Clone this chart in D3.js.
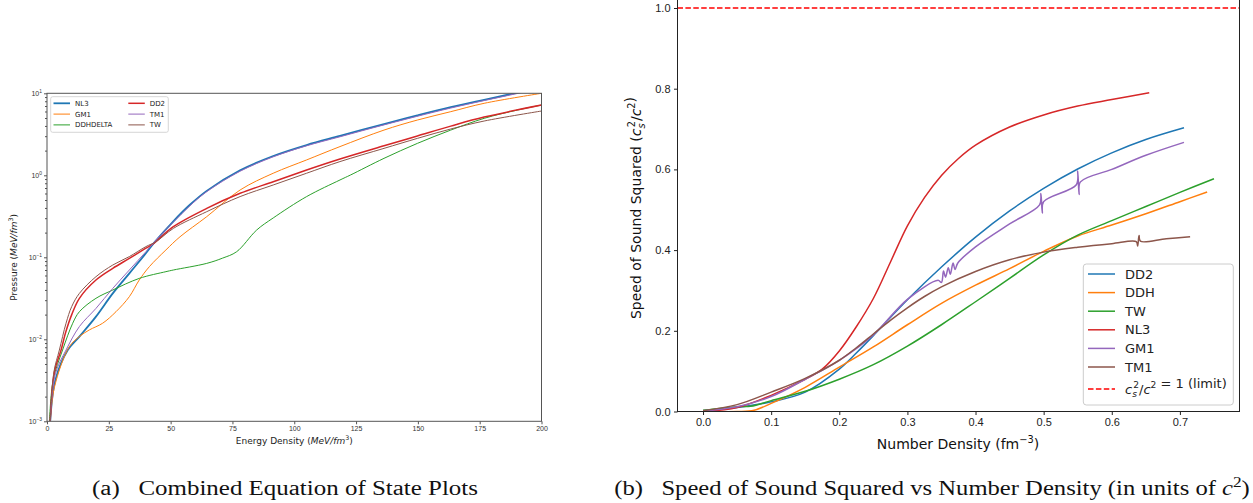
<!DOCTYPE html>
<html>
<head>
<meta charset="utf-8">
<script src="https://cdn.jsdelivr.net/npm/d3@7"></script>
<style>
body { margin: 0; background: #fff; }
svg { display: block; font-family: "DejaVu Sans", sans-serif; }
</style>
</head>
<body>
<div id="app"></div>
<script>

// (a) equation of state: [energy density MeV/fm^3, pressure MeV/fm^3]
var eosNames = ["NL3", "GM1", "DDHDELTA", "DD2", "TM1", "TW"];
var eosNL3 = [[1.3,0.001],[3.4,0.0032],[8.4,0.0074],[13.1,0.0108],[19.8,0.0189],[26.6,0.0363],[33.3,0.0637],[40,0.112],[43.7,0.155],[51.1,0.275],[57.8,0.437],[64.6,0.646],[78.1,1.15],[91.5,1.72],[105,2.34],[118.5,3.02],[136.3,4.22],[149.8,5.37],[163.3,6.76],[176.8,8.32],[189,10.0],[200,11.7]];
var eosGM1 = [[1.3,0.001],[3.0,0.0026],[9.0,0.0081],[13.1,0.0108],[17.1,0.0130],[22.5,0.0157],[27.9,0.0217],[33.3,0.0331],[37.3,0.0528],[41.4,0.0769],[48.1,0.123],[53.8,0.178],[64.6,0.313],[78.1,0.662],[91.5,1.06],[105,1.54],[118.5,2.24],[136.3,3.56],[149.8,4.72],[163.3,5.97],[176.8,7.55],[200,10.0]];
var eosDDHDELTA = [[1.0,0.001],[2.5,0.0032],[6.3,0.0074],[10.4,0.0157],[13.1,0.0217],[19.8,0.0316],[26.6,0.0399],[37.3,0.0553],[48.1,0.0668],[51.1,0.070],[64.6,0.0843],[71,0.0977],[76.7,0.117],[84.8,0.215],[91.5,0.302],[105,0.55],[118.5,0.877],[122.8,1.01],[136.3,1.61],[149.8,2.45],[163.3,3.56],[176.8,4.95],[190.3,6.25],[200,7.19]];
var eosDD2 = [[1.3,0.001],[3.0,0.004],[5.7,0.0074],[7.5,0.012],[10,0.020],[13.1,0.0316],[19.8,0.0528],[26.6,0.0733],[33.3,0.097],[40,0.129],[43.2,0.148],[51.1,0.236],[64.6,0.395],[78.1,0.603],[91.5,0.836],[105,1.16],[118.5,1.58],[136.3,2.29],[149.8,3.02],[163.3,3.98],[176.8,5.13],[200,7.19]];
var eosTM1 = [[1.3,0.001],[3.4,0.0038],[7.7,0.0074],[13.1,0.0143],[19.8,0.0238],[26.6,0.0418],[33.3,0.070],[40,0.117],[45.4,0.179],[51.1,0.268],[57.8,0.425],[64.6,0.631],[78.1,1.12],[91.5,1.68],[105,2.29],[118.5,2.95],[136.3,4.12],[163.3,6.61],[189,9.77],[200,11.5]];
var eosTW = [[1.3,0.001],[2.8,0.004],[5.0,0.0074],[7.7,0.0157],[10,0.0251],[13.1,0.0363],[19.8,0.058],[26.6,0.0805],[33.3,0.102],[40,0.135],[44.1,0.155],[51.1,0.225],[64.6,0.36],[78.1,0.55],[91.5,0.762],[105,1.06],[118.5,1.47],[136.3,2.13],[149.8,2.82],[163.3,3.67],[176.8,4.59],[200,6.08]];
var energyTicks = [0, 25, 50, 75, 100, 125, 150, 175, 200];
var pressureExponents = [-3, -2, -1, 0, 1];

// (b) speed of sound squared: [number density fm^-3, cs^2/c^2]
var soundNames = ["DD2", "DDH", "TW", "NL3", "GM1", "TM1"];
var cs2DD2 = [[0,0.002],[0.05,0.01],[0.1,0.024],[0.15,0.048],[0.2,0.105],[0.225,0.145],[0.25,0.188],[0.275,0.233],[0.3,0.277],[0.35,0.358],[0.4,0.432],[0.45,0.497],[0.5,0.553],[0.55,0.601],[0.6,0.641],[0.65,0.674],[0.706,0.703]];
var cs2DDH = [[0,0],[0.05,0],[0.075,0.003],[0.1,0.02],[0.15,0.06],[0.2,0.11],[0.25,0.16],[0.3,0.215],[0.35,0.268],[0.4,0.313],[0.45,0.354],[0.5,0.397],[0.55,0.435],[0.6,0.462],[0.65,0.49],[0.7,0.52],[0.74,0.544]];
var cs2TW = [[0,0.003],[0.05,0.012],[0.07,0.013],[0.1,0.027],[0.15,0.05],[0.2,0.08],[0.25,0.116],[0.3,0.162],[0.35,0.215],[0.4,0.272],[0.45,0.33],[0.5,0.388],[0.55,0.437],[0.6,0.473],[0.65,0.508],[0.7,0.543],[0.75,0.577]];
var cs2NL3 = [[0,0],[0.05,0.01],[0.1,0.04],[0.15,0.08],[0.175,0.105],[0.2,0.15],[0.225,0.21],[0.25,0.28],[0.275,0.37],[0.3,0.46],[0.325,0.53],[0.35,0.585],[0.375,0.627],[0.4,0.66],[0.45,0.705],[0.5,0.735],[0.55,0.757],[0.6,0.773],[0.655,0.79]];
var cs2GM1 = [[0,0.002],[0.05,0.012],[0.1,0.037],[0.15,0.08],[0.2,0.127],[0.25,0.19],[0.3,0.278],[0.345,0.325],[0.35,0.32],[0.353,0.348],[0.356,0.333],[0.36,0.356],[0.363,0.34],[0.367,0.368],[0.37,0.352],[0.374,0.368],[0.4,0.408],[0.45,0.465],[0.494,0.512],[0.496,0.54],[0.498,0.492],[0.5,0.52],[0.548,0.562],[0.55,0.596],[0.552,0.538],[0.554,0.569],[0.6,0.6],[0.65,0.635],[0.706,0.667]];
var cs2TM1 = [[0,0.002],[0.05,0.017],[0.1,0.048],[0.15,0.082],[0.2,0.127],[0.225,0.158],[0.25,0.192],[0.275,0.226],[0.3,0.257],[0.325,0.285],[0.35,0.309],[0.4,0.347],[0.45,0.376],[0.5,0.395],[0.55,0.407],[0.6,0.416],[0.636,0.421],[0.638,0.41],[0.64,0.436],[0.642,0.422],[0.68,0.428],[0.715,0.433]];
var densityTicks = [0, 0.1, 0.2, 0.3, 0.4, 0.5, 0.6, 0.7];
var cs2Ticks = [0, 0.2, 0.4, 0.6, 0.8, 1.0];
var cs2Limit = 1.0;

var colors = ["#1f77b4", "#ff7f0e", "#2ca02c", "#d62728", "#9467bd", "#8c564b"];

var svg = d3.select("#app")
    .append("svg")
    .attr("width", 1253)
    .attr("height", 503);

// text with italic / super / sub pieces
function rich(text, parts, size) {
    parts.forEach(function (p) {
        var ts = text.append("tspan").text(p.t);
        if (p.it) ts.style("font-style", "italic");
        if (p.sup) ts.style("font-size", (size * 0.7) + "px").attr("dy", -size * 0.4);
        if (p.sub) ts.style("font-size", (size * 0.7) + "px").attr("dy", size * 0.25);
        if (p.dx) ts.attr("dx", p.dx);
        if (p.down) ts.attr("dy", p.down);
    });
    return text;
}

function csParts(size) {
    return [
        {t: "c", it: true},
        {t: "s", it: true, sub: true},
        {t: "2", sup: true, dx: -size * 0.28 + "px", down: -size * 0.65},
        {t: "/", down: size * 0.4},
        {t: "c", it: true},
        {t: "2", sup: true},
        {t: "", down: size * 0.4}
    ];
}

// stretch a caption to the width it has in the figure
function fitWidth(text, cx, y, width) {
    var w = text.node().getComputedTextLength();
    text.attr("x", 0).attr("y", 0).attr("text-anchor", "middle")
        .attr("transform", "translate(" + cx + "," + y + ") scale(" + (width / w) + ",1)");
}

// ---------- (a) ----------
var ax = {left: 47, right: 541.5, top: 93.3, bottom: 421.3};
var xE = d3.scaleLinear().domain([0, 200]).range([ax.left, ax.right]);
var yP = d3.scaleLog().domain([1e-3, 10]).range([ax.bottom, ax.top]);

svg.append("clipPath").attr("id", "clipA")
    .append("rect")
    .attr("x", ax.left).attr("y", ax.top)
    .attr("width", ax.right - ax.left).attr("height", ax.bottom - ax.top);

var lineA = d3.line()
    .x(function (d) { return xE(d[0]); })
    .y(function (d) { return yP(d[1]); })
    .curve(d3.curveCatmullRom.alpha(0.5));

var eosData = [eosNL3, eosGM1, eosDDHDELTA, eosDD2, eosTM1, eosTW];
var eosWidth = [1.8, 1, 1, 1.5, 1, 1];

svg.append("g")
    .attr("clip-path", "url(#clipA)")
    .selectAll("path")
    .data(eosData)
    .enter()
    .append("path")
    .attr("d", lineA)
    .attr("fill", "none")
    .attr("stroke", function (d, i) { return colors[i]; })
    .attr("stroke-width", function (d, i) { return eosWidth[i]; });

var xAxisA = svg.append("g")
    .attr("transform", "translate(0," + ax.bottom + ")")
    .call(d3.axisBottom(xE).tickValues(energyTicks).tickSize(3).tickPadding(2));
xAxisA.select(".domain").remove();
xAxisA.selectAll("text").style("font-size", "7px").attr("fill", "#333");
xAxisA.selectAll("line").attr("stroke", "#555");

var minor = [];
pressureExponents.forEach(function (e) {
    if (e < 1) d3.range(2, 10).forEach(function (k) { minor.push(k * Math.pow(10, e)); });
});
var yMinorA = svg.append("g")
    .attr("transform", "translate(" + ax.left + ",0)")
    .call(d3.axisLeft(yP).tickValues(minor).tickSize(2).tickFormat(""));
yMinorA.select(".domain").remove();
yMinorA.selectAll("line").attr("stroke", "#555");

var yAxisA = svg.append("g")
    .attr("transform", "translate(" + ax.left + ",0)")
    .call(d3.axisLeft(yP)
          .tickValues(pressureExponents.map(function (e) { return Math.pow(10, e); }))
          .tickSize(3).tickFormat(""));
yAxisA.select(".domain").remove();
yAxisA.selectAll("line").attr("stroke", "#555");
yAxisA.selectAll(".tick")
    .append("text")
    .attr("x", -5).attr("dy", "0.32em")
    .attr("text-anchor", "end")
    .attr("fill", "#333")
    .style("font-size", "7px")
    .each(function (d) {
        var e = Math.round(Math.log10(d));
        rich(d3.select(this), [{t: "10"}, {t: String(e).replace("-", "\u2212"), sup: true}], 7);
    });

svg.append("rect")
    .attr("x", ax.left).attr("y", ax.top)
    .attr("width", ax.right - ax.left).attr("height", ax.bottom - ax.top)
    .attr("fill", "none").attr("stroke", "#555").attr("stroke-width", 1);

rich(svg.append("text")
     .attr("x", (ax.left + ax.right) / 2).attr("y", 444)
     .attr("text-anchor", "middle").style("font-size", "9px").attr("fill", "#222"),
     [{t: "Energy Density ("}, {t: "MeV/fm", it: true}, {t: "3", sup: true}, {t: ")", down: 3.6}], 9);

rich(svg.append("text")
     .attr("transform", "translate(17," + ((ax.top + ax.bottom) / 2) + ") rotate(-90)")
     .attr("text-anchor", "middle").style("font-size", "9px").attr("fill", "#222"),
     [{t: "Pressure ("}, {t: "MeV/fm", it: true}, {t: "3", sup: true}, {t: ")", down: 3.6}], 9);

// legend (a): two columns
var legA = svg.append("g");
legA.append("rect")
    .attr("x", 50.7).attr("y", 96.7).attr("width", 117.6).attr("height", 35.6)
    .attr("rx", 2).attr("fill", "#fff").attr("fill-opacity", 0.8)
    .attr("stroke", "#ccc").attr("stroke-width", 0.8);
var legAItems = legA.selectAll(".item")
    .data(eosNames)
    .enter()
    .append("g")
    .attr("class", "item")
    .attr("transform", function (d, i) {
        return "translate(" + (i < 3 ? 53.5 : 128.3) + "," + (103.3 + (i % 3) * 10.8) + ")";
    });
legAItems.append("line")
    .attr("x1", 0).attr("x2", 16.5)
    .attr("stroke", function (d, i) { return colors[i]; })
    .attr("stroke-width", function (d, i) { return eosWidth[i]; });
legAItems.append("text")
    .attr("x", 21.5).attr("dy", "0.35em")
    .style("font-size", "7px").attr("fill", "#222")
    .text(function (d) { return d; });

// ---------- (b) ----------
var bx = {left: 677.5, right: 1239.5, top: -1, bottom: 411.5};
var xN = d3.scaleLinear().domain([-0.0375, 0.7875]).range([bx.left, bx.right]);
var yC = d3.scaleLinear().domain([0, 1]).range([bx.bottom, 8]);

svg.append("clipPath").attr("id", "clipB")
    .append("rect")
    .attr("x", bx.left).attr("y", bx.top)
    .attr("width", bx.right - bx.left).attr("height", bx.bottom - bx.top);

var lineB = d3.line()
    .x(function (d) { return xN(d[0]); })
    .y(function (d) { return yC(d[1]); })
    .curve(d3.curveCatmullRom.alpha(0.5));

var soundData = [cs2DD2, cs2DDH, cs2TW, cs2NL3, cs2GM1, cs2TM1];

svg.append("g")
    .attr("clip-path", "url(#clipB)")
    .selectAll("path")
    .data(soundData)
    .enter()
    .append("path")
    .attr("d", lineB)
    .attr("fill", "none")
    .attr("stroke", function (d, i) { return colors[i]; })
    .attr("stroke-width", 1.5);

svg.append("line")
    .attr("x1", bx.left).attr("x2", bx.right)
    .attr("y1", yC(cs2Limit)).attr("y2", yC(cs2Limit))
    .attr("stroke", "#ff0000").attr("stroke-width", 1.5)
    .attr("stroke-dasharray", "5.5,2.4");

var xAxisB = svg.append("g")
    .attr("transform", "translate(0," + bx.bottom + ")")
    .call(d3.axisBottom(xN).tickValues(densityTicks).tickSize(3.5).tickPadding(3.5)
          .tickFormat(d3.format(".1f")));
xAxisB.select(".domain").remove();
xAxisB.selectAll("text").style("font-size", "11px").attr("fill", "#222");
xAxisB.selectAll("line").attr("stroke", "#222");

var yAxisB = svg.append("g")
    .attr("transform", "translate(" + bx.left + ",0)")
    .call(d3.axisLeft(yC).tickValues(cs2Ticks).tickSize(3.5).tickPadding(3.5)
          .tickFormat(d3.format(".1f")));
yAxisB.select(".domain").remove();
yAxisB.selectAll("text").style("font-size", "11px").attr("fill", "#222");
yAxisB.selectAll("line").attr("stroke", "#222");

svg.append("rect")
    .attr("x", bx.left).attr("y", bx.top)
    .attr("width", bx.right - bx.left).attr("height", bx.bottom - bx.top)
    .attr("fill", "none").attr("stroke", "#222").attr("stroke-width", 1);

rich(svg.append("text")
     .attr("x", 958).attr("y", 449)
     .attr("text-anchor", "middle").style("font-size", "14px").attr("fill", "#111"),
     [{t: "Number Density (fm"}, {t: "\u22123", sup: true}, {t: ")", down: 5.6}], 14);

rich(svg.append("text")
     .attr("transform", "translate(641,208) rotate(-90)")
     .attr("text-anchor", "middle").style("font-size", "14px").attr("fill", "#111"),
     [{t: "Speed of Sound Squared ("}].concat(csParts(14)).concat([{t: ")"}]), 14);

// legend (b)
var legB = svg.append("g");
legB.append("rect")
    .attr("x", 1083.3).attr("y", 264).attr("width", 150).attr("height", 141)
    .attr("rx", 3).attr("fill", "#fff").attr("fill-opacity", 0.8)
    .attr("stroke", "#ccc").attr("stroke-width", 1);
var legBItems = legB.selectAll(".item")
    .data(soundNames.concat(["limit"]))
    .enter()
    .append("g")
    .attr("class", "item")
    .attr("transform", function (d, i) {
        return "translate(1088," + (i < 6 ? 274 + i * 18.6 : 389) + ")";
    });
legBItems.append("line")
    .attr("x1", 0).attr("x2", 27)
    .attr("stroke", function (d, i) { return i < 6 ? colors[i] : "#ff0000"; })
    .attr("stroke-width", 1.5)
    .attr("stroke-dasharray", function (d, i) { return i < 6 ? null : "5.5,2.4"; });
legBItems.append("text")
    .attr("x", 37).attr("dy", "0.36em")
    .style("font-size", "13px").attr("fill", "#222")
    .each(function (d, i) {
        var t = d3.select(this);
        if (i < 6) { t.text(d); return; }
        rich(t, csParts(13).concat([{t: " = 1 (limit)"}]), 13);
    });

// captions
var capA = svg.append("text")
    .style("font-family", "'Liberation Serif', serif").style("font-size", "20px")
    .attr("fill", "#111")
    .text("(a)\u2002 Combined Equation of State Plots");
fitWidth(capA, 285, 495, 386);

var capB = rich(svg.append("text")
     .style("font-family", "'Liberation Serif', serif").style("font-size", "20px")
     .attr("fill", "#111"),
     [{t: "(b)\u2002 Speed of Sound Squared vs Number Density (in units of "},
      {t: "c", it: true}, {t: "2", sup: true}, {t: ")", down: 8}], 20);
fitWidth(capB, 932, 495, 636);

</script>
</body>
</html>
